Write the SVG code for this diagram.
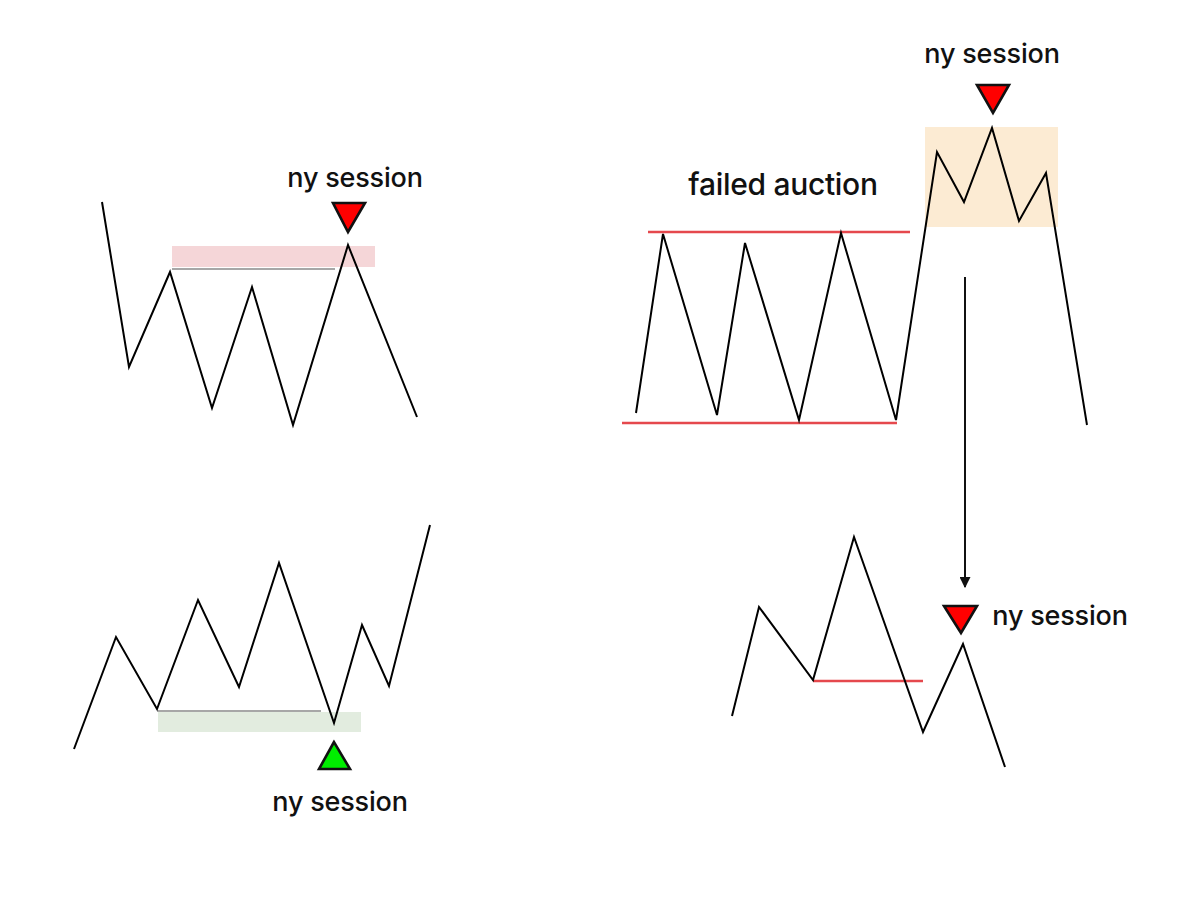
<svg xmlns="http://www.w3.org/2000/svg" width="1200" height="900" viewBox="0 0 1200 900">
<defs>
<style>
.price{fill:none;stroke:#000;stroke-width:2;stroke-linejoin:miter}
.lvl{stroke:#e5484d;stroke-width:2.4}
.gray{stroke:#8a8a8a;stroke-width:1.5}
.tri-r{fill:#ff0000;stroke:#111;stroke-width:2.6;stroke-linejoin:miter}
.tri-g{fill:#00ee00;stroke:#111;stroke-width:2.6;stroke-linejoin:miter}
.lbl{font-family:Inter,"Liberation Sans",sans-serif;font-size:27px;font-weight:500;fill:#111;text-anchor:middle;letter-spacing:-0.2px}
.big{font-size:30px;letter-spacing:-0.3px}
</style>
<marker id="ah" viewBox="0 0 10 10" refX="9" refY="5" markerWidth="11" markerHeight="11" markerUnits="userSpaceOnUse" orient="auto">
<path d="M0,0 L10,5 L0,10 z" fill="#111"/>
</marker>
</defs>
<rect width="1200" height="900" fill="#fff"/>

<g id="chart-top-left">
<rect x="172" y="246" width="203" height="21" fill="#f5d6d8"/>
<line class="gray" x1="172" y1="269" x2="335" y2="269"/>
<polyline class="price" points="102,202 129,367 170,272 212,408 252,287 293,425 348,245 417,417"/>
<polygon class="tri-r" points="333,203 365,203 348,232"/>
<text class="lbl" x="355" y="187">ny session</text>
</g>

<g id="chart-bottom-left">
<rect x="158" y="712" width="203" height="20" fill="#e2ecdf"/>
<line class="gray" x1="157" y1="711" x2="321" y2="711"/>
<polyline class="price" points="74,749 116,637 157,709 198,600 239,687 279,563 334,723 362,625 389,686 430,525"/>
<polygon class="tri-g" points="334,742 319,769 350,769"/>
<text class="lbl" x="340" y="811">ny session</text>
</g>

<g id="chart-top-right">
<rect x="925" y="127" width="133" height="100" fill="#fcebd3"/>
<line class="lvl" x1="648" y1="232" x2="910" y2="232"/>
<line class="lvl" x1="622" y1="423" x2="897" y2="423"/>
<polyline class="price" points="636,413 663,234 717,415 745,243 799,420 841,233 896,420 937,152 964,202 992,128 1019,221 1046,173 1087,425"/>
<polygon class="tri-r" points="977,85 1009,85 993,113"/>
<text class="lbl" x="992" y="63">ny session</text>
<text class="lbl big" x="783" y="195">failed auction</text>
</g>

<g id="chart-bottom-right">
<line class="lvl" x1="813" y1="681" x2="923" y2="681"/>
<polyline class="price" points="732,716 759,607 813,680 854,537 923,732 963,644 1005,767"/>
<polygon class="tri-r" points="944,606 977,606 961,633"/>
<text class="lbl" x="1060" y="625">ny session</text>
</g>

<g id="connectors">
<line x1="965" y1="277" x2="965" y2="587" stroke="#111" stroke-width="2" marker-end="url(#ah)"/>
</g>
</svg>
